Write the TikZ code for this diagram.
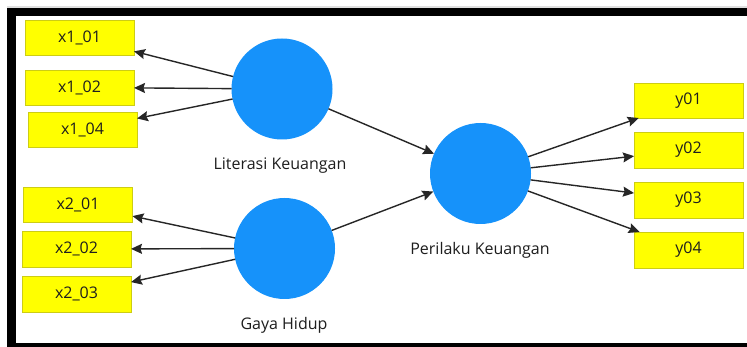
\documentclass[tikz,border=0pt]{standalone}
\usepackage{fontspec}
\setmainfont{Open Sans}
\usetikzlibrary{arrows.meta}
\definecolor{latentblue}{RGB}{22,146,250}
\definecolor{itemyellow}{RGB}{255,255,0}
\definecolor{itemedge}{RGB}{205,205,20}
\definecolor{inktext}{RGB}{30,30,30}
\tikzset{
  indicator/.style={rectangle, draw=itemedge, line width=0.9pt, fill=itemyellow,
    minimum width=109pt, minimum height=35pt, inner sep=0pt, outer sep=0pt,
    text=inktext, font=\fontsize{16}{19}\selectfont},
  latent/.style={circle, fill=latentblue, minimum size=101pt, inner sep=0pt, outer sep=0pt},
  latentlabel/.style={text=inktext, font=\fontsize{16}{19}\selectfont, inner sep=0pt},
  link/.style={draw=black!85, line width=1.4pt,
    -{Stealth[length=11pt,width=10pt,inset=1.5pt]}},
  frameband/.style={fill=black, draw=none}
}
\begin{document}
\begin{tikzpicture}[x=1pt,y=-1pt]
  \useasboundingbox (0,0) rectangle (747,347);
  \fill[white] (0,0) rectangle (747,347);

  % window frame
  \fill[black!12] (7,6.5) rectangle (747,8);
  \fill[frameband] (7,8) rectangle (747,16);
  \fill[frameband] (7,8) rectangle (16,347);
  \fill[frameband] (7,343) rectangle (747,347);

  % latent variables
  \node[latent] (lk) at (282,89) {};
  \node[latent] (gh) at (284.5,248.5) {};
  \node[latent] (pk) at (480.5,173.5) {};
  \node[latentlabel] (lklab) at (280,166) {Literasi Keuangan};
  \node[latentlabel] (ghlab) at (284,325) {Gaya Hidup};
  \node[latentlabel] (pklab) at (480,250) {Perilaku Keuangan};

  % indicators
  \node[indicator] (x101) at (79.5,37.5) {x1\_01};
  \node[indicator] (x102) at (79.5,87.5) {x1\_02};
  \node[indicator] (x104) at (82.5,129.5) {x1\_04};
  \node[indicator] (x201) at (78,204.5) {x2\_01};
  \node[indicator, minimum height=36pt] (x202) at (76.5,249) {x2\_02};
  \node[indicator, minimum height=36pt] (x203) at (76.5,294) {x2\_03};
  \node[indicator] (y01) at (688.5,100.5) {y01};
  \node[indicator, minimum height=36pt] (y02) at (688.5,150) {y02};
  \node[indicator, minimum height=36pt] (y03) at (688.5,200) {y03};
  \node[indicator, minimum height=36pt] (y04) at (688.5,250) {y04};

  % outer loadings
  \draw[link] (lk) -- (x101);
  \draw[link] (lk) -- (x102);
  \draw[link] (lk) -- (x104);
  \draw[link] (gh) -- (x201);
  \draw[link] (gh) -- (x202);
  \draw[link] (gh) -- (x203);
  \draw[link] (pk) -- (y01);
  \draw[link] (pk) -- (y02);
  \draw[link] (pk) -- (y03);
  \draw[link] (pk) -- (y04);

  % structural paths
  \draw[link] (lk) -- (pk);
  \draw[link] (gh) -- (pk);
\end{tikzpicture}
\end{document}
